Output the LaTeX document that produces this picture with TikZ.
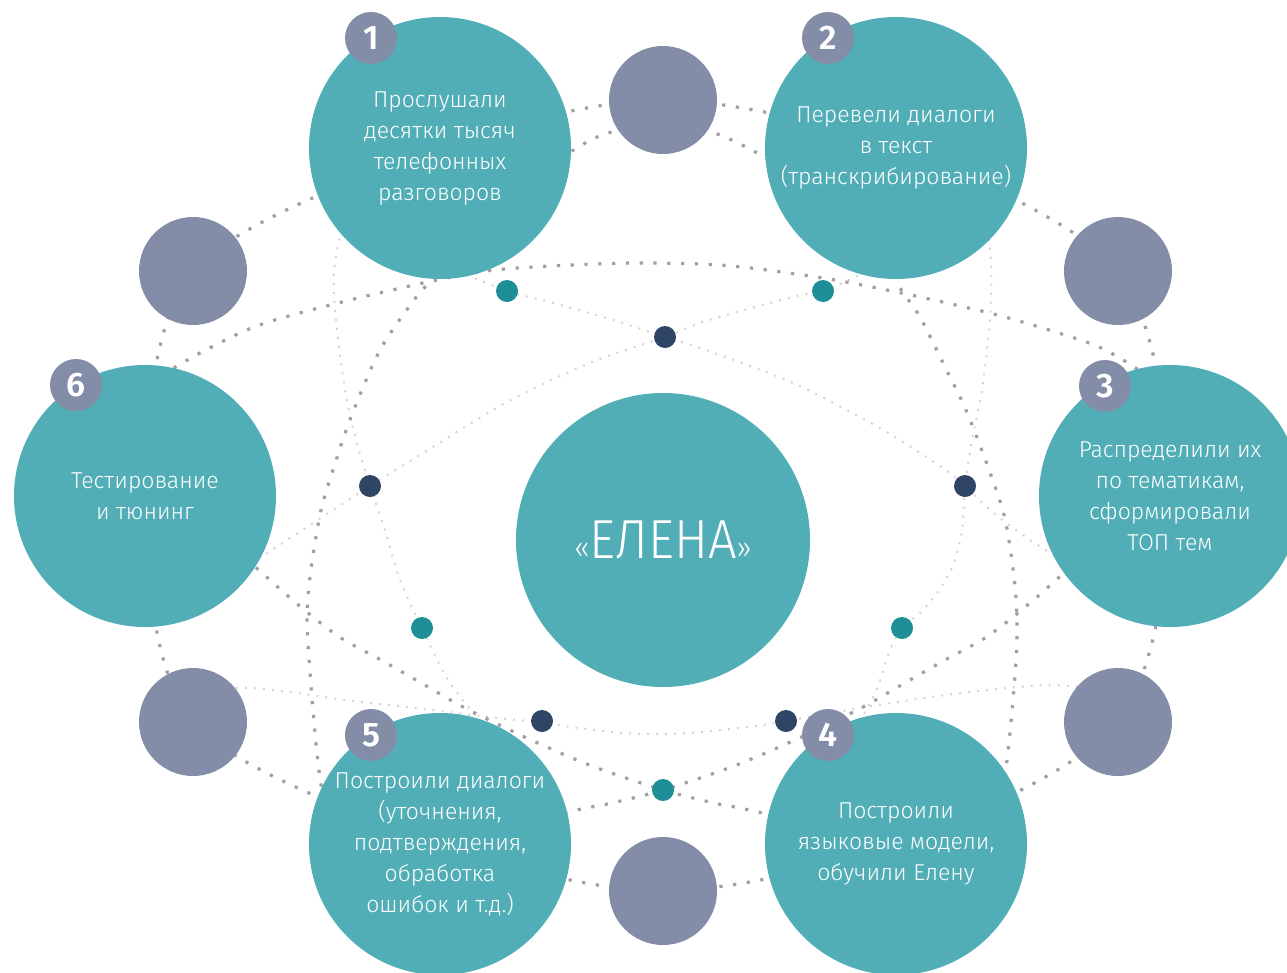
\documentclass[tikz,border=0pt]{standalone}
\usepackage{fontspec}
\setmainfont{Fira Sans}[UprightFont={* Light},BoldFont={* SemiBold}]
\newfontfamily\midfont{Fira Sans}[UprightFont={* Light},FakeStretch=0.92]
\usetikzlibrary{backgrounds}
\definecolor{tealc}{RGB}{81,174,183}
\definecolor{grayc}{RGB}{131,141,168}
\definecolor{navyd}{RGB}{47,69,102}
\definecolor{teald}{RGB}{30,142,151}
\definecolor{dotc}{RGB}{160,160,164}
\definecolor{ldotc}{RGB}{212,212,216}
\begin{document}
\begin{tikzpicture}[x=1pt,y=-1pt,
  bigc/.style={circle, fill=tealc, minimum size=262pt, inner sep=0pt, text=white, align=center, font=\fontsize{23}{31}\selectfont},
  midc/.style={circle, fill=tealc, minimum size=294pt, inner sep=0pt, text=white, font=\midfont\fontsize{55}{55}\selectfont},
  graycirc/.style={circle, fill=grayc, minimum size=108pt, inner sep=0pt},
  badge/.style={circle, fill=grayc, minimum size=52pt, inner sep=0pt, text=white, font=\bfseries\fontsize{34}{34}\selectfont},
  tdot/.style={circle, fill=teald, minimum size=22pt, inner sep=0pt},
  ndot/.style={circle, fill=navyd, minimum size=22pt, inner sep=0pt},
  hvy/.style={draw=dotc, line width=3.2pt, dash pattern=on 3.2pt off 10.6pt},
  lgt/.style={draw=ldotc, line width=2pt, dash pattern=on 2pt off 7pt}]
\useasboundingbox (0,0) rectangle (1287,972);
% outer ring items
\node[graycirc] (gt) at (663,100) {};
\node[graycirc] (gtl) at (193,271) {};
\node[graycirc] (gtr) at (1118,271) {};
\node[graycirc] (gbl) at (193,722) {};
\node[graycirc] (gbr) at (1118,722) {};
\node[graycirc] (gb) at (663,891) {};
\node[bigc] (c1) at (440,148) {Прослушали\\десятки тысяч\\телефонных\\разговоров};
\node[bigc] (c2) at (896,148) {Перевели диалоги\\в текст\\(транскрибирование)};
\node[bigc] (c3) at (1170,496) {Распределили их\\по тематикам,\\сформировали\\ТОП тем};
\node[bigc] (c4) at (896,844) {Построили\\языковые модели,\\обучили Елену};
\node[bigc] (c5) at (440,844) {Построили диалоги\\(уточнения,\\подтверждения,\\обработка\\ошибок и т.д.)};
\node[bigc] (c6) at (145,496) {Тестирование\\и тюнинг};
\node[midc] (mid) at (663,540) {{\fontsize{30}{30}\selectfont «}ЕЛЕНА{\fontsize{30}{30}\selectfont »}};
\node[badge] (b1) at (371,38) {1};
\node[badge] (b2) at (828,38) {2};
\node[badge] (b3) at (1105,386) {3};
\node[badge] (b4) at (828,735) {4};
\node[badge] (b5) at (371,735) {5};
\node[badge] (b6) at (76,385) {6};
% small dots
\node[tdot] (t1) at (507,291) {};
\node[tdot] (t2) at (823,291) {};
\node[tdot] (t3) at (422,628) {};
\node[tdot] (t4) at (902,628) {};
\node[tdot] (t5) at (663,790) {};
\node[ndot] (n1) at (665,337) {};
\node[ndot] (n2) at (370,486) {};
\node[ndot] (n3) at (965,486) {};
\node[ndot] (n4) at (542,721) {};
\node[ndot] (n5) at (786,721) {};
\begin{scope}[on background layer]
% light lines
\draw[lgt] plot[smooth] coordinates {(345,212) (334,270) (336,320) (345,390) (356,440) (370,486) (385,530) (400,580) (422,628) (444,673) (465,703) (482,722)};
\draw[lgt] plot[smooth] coordinates {(985,212) (991,260) (990,320) (982,390) (972,440) (965,486) (962,530) (953,565) (938,592) (920,613) (902,628) (890,650) (878,686) (865,712) (850,730)};
\draw[lgt] plot[smooth] coordinates {(450,268) (507,291) (550,302) (613,320) (665,337) (709,351) (793,383) (878,427) (940,466) (965,486) (990,510) (1030,540) (1070,565)};
\draw[lgt] plot[smooth] coordinates {(866,272) (823,291) (793,297) (709,320) (665,337) (592,362) (507,402) (423,453) (370,486) (298,533) (246,567)};
\draw[lgt] plot[smooth] coordinates {(200,690) (249,688) (296,693) (338,699) (423,709) (507,719) (542,722) (571,727) (624,733) (663,734) (702,732) (755,726) (786,721) (878,705) (962,693) (1047,685) (1110,690)};
% heavy rings
\draw[hvy] plot[smooth cycle] coordinates {(663,100) (896,148) (1118,271) (1170,496) (1118,722) (896,844) (663,891) (440,844) (193,722) (145,496) (193,271) (440,148)};
\draw[hvy] plot[smooth] coordinates {(540,178) (569,153) (605,134) (663,123) (717,134) (764,157) (792,180)};
% heavy arcs
\draw[hvy] plot[smooth] coordinates {(140,392) (182,363) (254,327) (338,303) (423,283) (486,271) (550,266) (632,263) (700,264) (751,268) (835,280) (920,297) (1005,317) (1089,343) (1123,360) (1150,378)};
\draw[hvy] plot[smooth] coordinates {(225,540) (260,571) (296,603) (338,636) (381,660) (423,684) (465,708) (529,739) (592,766) (663,790) (714,803) (740,808) (785,818)};
\draw[hvy] plot[smooth] coordinates {(1101,540) (1066,571) (1030,603) (988,636) (945,660) (903,684) (861,708) (797,739) (734,766) (663,790) (612,803) (586,808) (541,818)};
\draw[hvy] plot[smooth] coordinates {(438,262) (431,280) (414,300) (380,350) (351,417) (334,467) (321,510) (311,569) (307,619) (311,686) (317,753) (322,790) (330,815)};
\draw[hvy] plot[smooth] coordinates {(893,262) (897,283) (920,317) (945,367) (966,410) (988,467) (1005,519) (1015,586) (1017,640) (1013,700) (1007,760) (1000,800)};
\end{scope}
\end{tikzpicture}
\end{document}
